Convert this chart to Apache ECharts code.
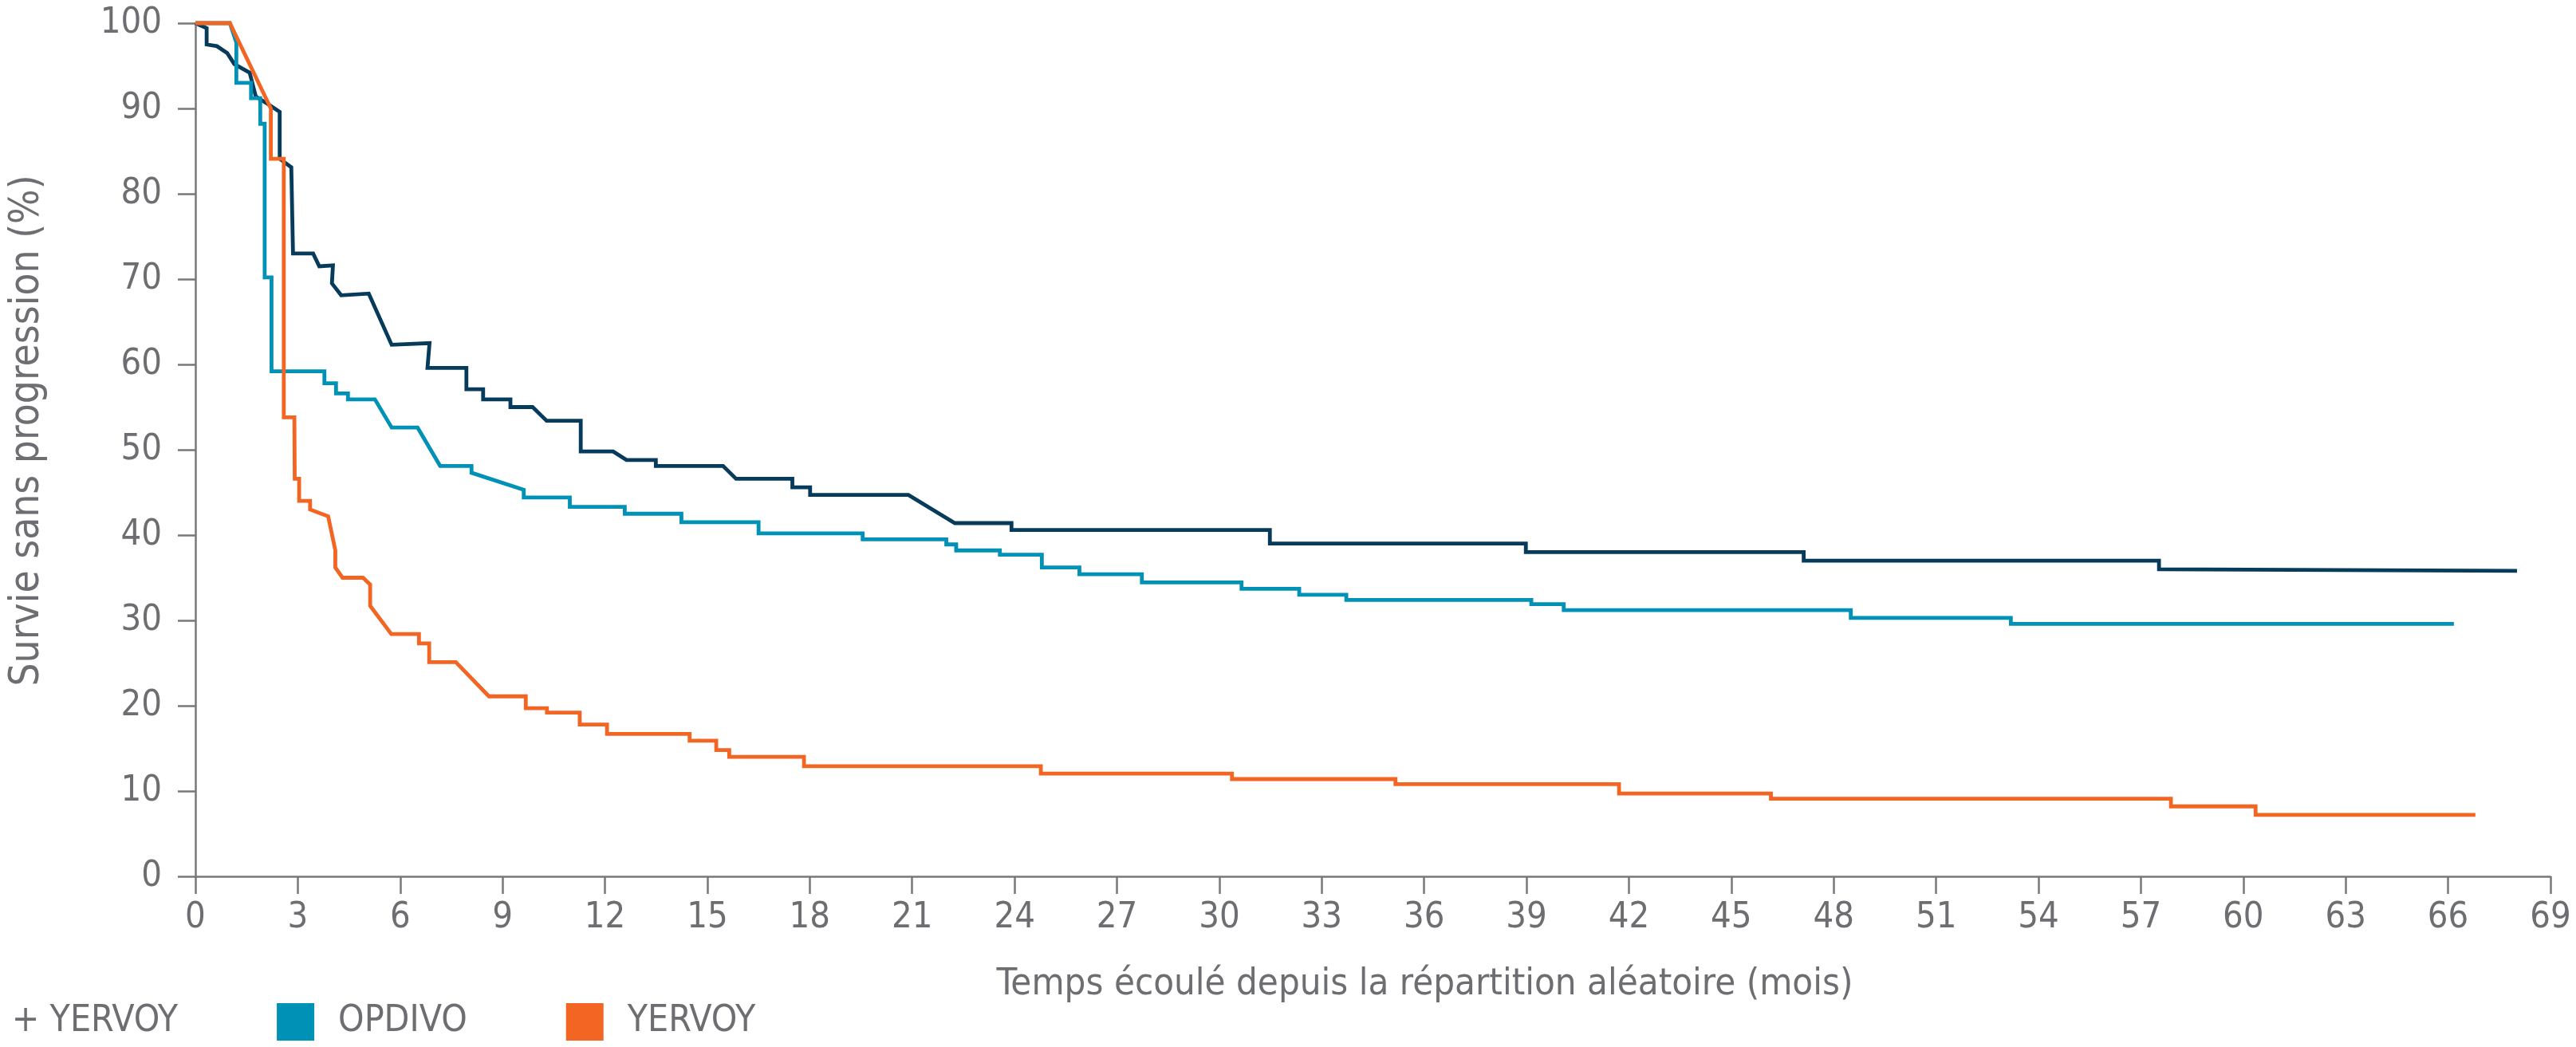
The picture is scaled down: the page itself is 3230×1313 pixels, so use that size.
<!DOCTYPE html>
<html>
<head>
<meta charset="utf-8">
<title>Survie sans progression</title>
<script src="https://cdn.jsdelivr.net/npm/echarts@6/dist/echarts.min.js"></script>
<style>
  html, body { margin: 0; padding: 0; background: #fff; }
  #chart { width: 3230px; height: 1313px; }
</style>
</head>
<body>
<div id="chart" class="js-km-chart"></div>
<script>
const seriesNames = ['OPDIVO + YERVOY', 'OPDIVO', 'YERVOY'];

// OPDIVO + YERVOY
const comboMonths = [0, 0.33, 0.33, 0.63, 0.93, 1.14, 1.59, 1.77, 2.17, 2.47, 2.47, 2.81, 2.86, 3.45, 3.63, 4.03, 4.0, 4.27,
  5.08, 5.75, 6.86, 6.80, 7.94, 7.94, 8.43, 8.43, 9.23, 9.23, 9.88, 10.29, 11.29, 11.29, 12.24, 12.63, 13.49, 13.49,
  15.46, 15.84, 17.49, 17.49, 18.01, 18.01, 20.89, 22.25, 23.91, 23.91, 31.48, 31.48, 38.98, 38.98, 47.12, 47.12,
  57.53, 57.53, 68.02];
const comboSurvival = [100, 99.4, 97.5, 97.3, 96.5, 95.2, 94.2, 91.4, 90.4, 89.6, 84.1, 83.1, 73.0, 73.0, 71.5, 71.6, 69.5, 68.1,
  68.3, 62.3, 62.5, 59.6, 59.6, 57.1, 57.1, 55.9, 55.9, 55.0, 55.0, 53.4, 53.4, 49.8, 49.8, 48.8, 48.8, 48.1,
  48.1, 46.6, 46.6, 45.6, 45.6, 44.7, 44.7, 41.4, 41.4, 40.6, 40.6, 39.0, 39.0, 38.0, 38.0, 37.0,
  37.0, 36.0, 35.8];

// OPDIVO
const opdivoMonths = [0, 1.01, 1.20, 1.20, 1.63, 1.63, 1.90, 1.90, 2.03, 2.03, 2.23, 2.23, 3.78, 3.78, 4.12, 4.12, 4.47, 4.47,
  5.26, 5.75, 6.51, 7.17, 8.09, 8.09, 9.62, 9.62, 10.97, 10.97, 12.58, 12.58, 14.24, 14.24, 16.50, 16.50,
  19.55, 19.55, 22.0, 22.0, 22.29, 22.29, 23.57, 23.57, 24.8, 24.8, 25.9, 25.9, 27.73, 27.73, 30.65, 30.65,
  32.34, 32.34, 33.72, 33.72, 39.14, 39.14, 40.09, 40.09, 48.5, 48.5, 53.19, 53.19, 66.17];
const opdivoSurvival = [100, 100, 97.7, 93.0, 93.0, 91.2, 91.2, 88.2, 88.2, 70.2, 70.2, 59.2, 59.2, 57.8, 57.8, 56.6, 56.6, 55.9,
  55.9, 52.6, 52.6, 48.1, 48.1, 47.3, 45.3, 44.4, 44.4, 43.3, 43.3, 42.5, 42.5, 41.5, 41.5, 40.2,
  40.2, 39.5, 39.5, 38.9, 38.9, 38.2, 38.2, 37.7, 37.7, 36.2, 36.2, 35.4, 35.4, 34.45, 34.45, 33.7,
  33.7, 33.0, 33.0, 32.4, 32.4, 31.9, 31.9, 31.2, 31.2, 30.3, 30.3, 29.6, 29.6];

// YERVOY
const yervoyMonths = [0, 1.01, 2.21, 2.21, 2.59, 2.59, 2.90, 2.91, 3.04, 3.04, 3.36, 3.36, 3.89, 4.10, 4.10, 4.31, 4.91, 5.12,
  5.12, 5.74, 6.55, 6.55, 6.85, 6.85, 7.63, 8.60, 9.68, 9.68, 10.30, 10.30, 11.26, 11.26, 12.06, 12.06,
  14.48, 14.48, 15.26, 15.26, 15.64, 15.64, 17.83, 17.83, 24.77, 24.77, 30.37, 30.37, 35.16, 35.16,
  41.71, 41.71, 46.16, 46.16, 57.88, 57.88, 60.36, 60.36, 66.8];
const yervoySurvival = [100, 100, 90, 84.1, 84.1, 53.8, 53.8, 46.6, 46.6, 44.0, 44.0, 43.0, 42.2, 38.2, 36.2, 35.0, 35.0, 34.2,
  31.7, 28.4, 28.4, 27.3, 27.3, 25.1, 25.1, 21.1, 21.1, 19.7, 19.7, 19.2, 19.2, 17.8, 17.8, 16.7,
  16.7, 15.9, 15.9, 14.8, 14.8, 14.0, 14.0, 12.9, 12.9, 12.05, 12.05, 11.4, 11.4, 10.8,
  10.8, 9.7, 9.7, 9.1, 9.1, 8.2, 8.2, 7.2, 7.2];

const xAxisTitle = 'Temps écoulé depuis la répartition aléatoire (mois)';
const yAxisTitle = 'Survie sans progression (%)';

class Page {
  constructor() {
    this.textColor = '#6d6e71';
    this.axisColor = '#77787b';
    this.font = '"DejaVu Sans Condensed", "DejaVu Sans", sans-serif';
    this.colors = ['#073b5c', '#0091b7', '#f26522'];
    this.init();
  }

  init() {
    this.initChart();
  }

  toPoints(months, values) {
    return months.map((m, i) => [m, values[i]]);
  }

  buildSeries() {
    let curves = [
      this.toPoints(comboMonths, comboSurvival),
      this.toPoints(opdivoMonths, opdivoSurvival),
      this.toPoints(yervoyMonths, yervoySurvival)
    ];
    return curves.map((data, i) => ({
      name: seriesNames[i],
      type: 'line',
      data: data,
      showSymbol: false,
      symbol: 'none',
      clip: false,
      color: this.colors[i],
      lineStyle: { width: 4.8, color: this.colors[i], join: 'miter' },
      z: 2 + i
    }));
  }

  initChart() {
    let el = document.querySelector('.js-km-chart');
    let myChart = echarts.init(el, null, { renderer: 'canvas' });

    let options = {
      animation: false,
      backgroundColor: '#ffffff',
      textStyle: { fontFamily: this.font },
      grid: { left: 245, right: 32, top: 29, bottom: 214, containLabel: false },
      legend: {
        left: -242,
        top: 1253,
        itemWidth: 47,
        itemHeight: 47,
        itemGap: 124,
        icon: 'rect',
        data: seriesNames,
        selectedMode: false,
        textStyle: {
          fontFamily: this.font,
          fontSize: 46,
          color: this.textColor,
          padding: [0, 0, 0, 25]
        }
      },
      xAxis: {
        type: 'value',
        min: 0,
        max: 69,
        interval: 3,
        name: xAxisTitle,
        nameLocation: 'middle',
        nameGap: 112,
        nameTextStyle: { fontSize: 47, color: this.textColor, fontFamily: this.font, padding: [0, 0, 0, 130] },
        axisLine: { show: true, lineStyle: { color: this.axisColor, width: 2.5 } },
        axisTick: { show: true, length: 22, lineStyle: { color: this.axisColor, width: 2.5 } },
        axisLabel: { fontSize: 45, color: this.textColor, margin: 30, fontFamily: this.font },
        splitLine: { show: false }
      },
      yAxis: {
        type: 'value',
        min: 0,
        max: 100,
        interval: 10,
        name: yAxisTitle,
        nameLocation: 'middle',
        nameGap: 185,
        nameTextStyle: { fontSize: 51, color: this.textColor, fontFamily: this.font, padding: [0, 0, 0, 48] },
        axisLine: { show: true, lineStyle: { color: this.axisColor, width: 2.5 } },
        axisTick: { show: true, length: 22, lineStyle: { color: this.axisColor, width: 2.5 } },
        axisLabel: { fontSize: 45, color: this.textColor, margin: 42, fontFamily: this.font },
        splitLine: { show: false }
      },
      series: this.buildSeries()
    };

    myChart.setOption(options);

    window.addEventListener('resize', function() {
      myChart.resize();
    });
  }
}

new Page();
</script>
</body>
</html>
